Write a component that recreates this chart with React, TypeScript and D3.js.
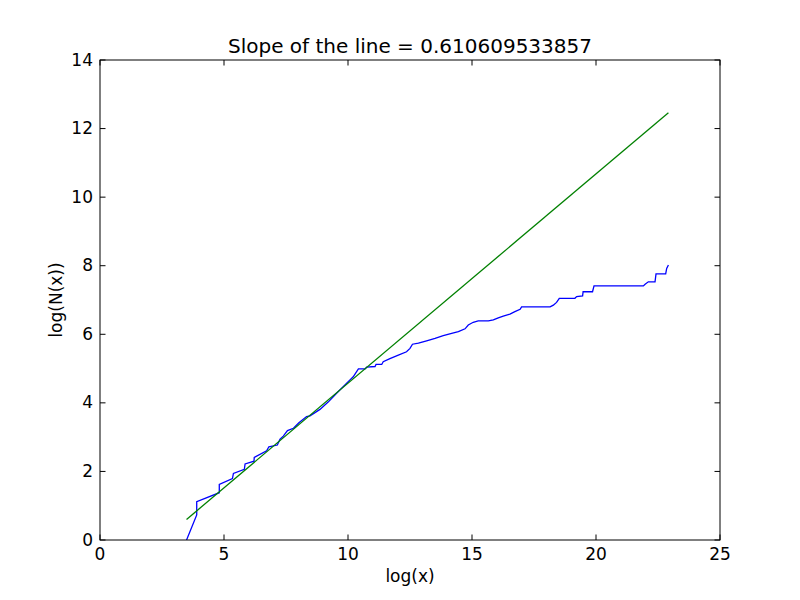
import React from "react";
import * as d3 from "d3";

const blueX = [3.49, 3.90, 3.90, 4.81, 4.81, 5.34, 5.38, 5.82, 5.85, 6.21, 6.22, 6.72, 6.81, 7.15, 7.26, 7.39, 7.56, 7.80, 8.02, 8.33, 8.47, 8.87, 9.21, 9.54, 10.08, 10.21, 10.42, 10.69, 10.75, 11.09, 11.13, 11.36, 11.42, 11.69, 12.03, 12.36, 12.50, 12.60, 12.84, 13.17, 13.51, 13.84, 14.18, 14.45, 14.72, 14.85, 15.05, 15.25, 15.66, 15.86, 16.06, 16.26, 16.53, 16.73, 16.94, 17.00, 18.15, 18.28, 18.41, 18.52, 19.15, 19.22, 19.46, 19.48, 19.86, 19.92, 21.91, 21.98, 22.11, 22.38, 22.42, 22.81, 22.85, 22.92];
const blueY = [0.00, 0.73, 1.12, 1.38, 1.62, 1.79, 1.94, 2.06, 2.22, 2.30, 2.41, 2.60, 2.72, 2.77, 2.94, 3.03, 3.19, 3.26, 3.42, 3.60, 3.62, 3.81, 4.03, 4.28, 4.67, 4.76, 4.99, 4.99, 5.04, 5.06, 5.12, 5.12, 5.20, 5.29, 5.39, 5.49, 5.59, 5.71, 5.74, 5.81, 5.88, 5.96, 6.03, 6.08, 6.16, 6.27, 6.35, 6.39, 6.39, 6.42, 6.48, 6.53, 6.59, 6.66, 6.73, 6.80, 6.80, 6.85, 6.93, 7.05, 7.05, 7.10, 7.12, 7.24, 7.24, 7.41, 7.41, 7.46, 7.53, 7.53, 7.76, 7.76, 7.92, 8.02];

const fitX = [3.49, 22.92];
const fitY = [0.60, 12.46];

const xTicks = [0, 5, 10, 15, 20, 25];
const yTicks = [0, 2, 4, 6, 8, 10, 12, 14];

const title = "Slope of the line = 0.610609533857";
const xLabel = "log(x)";
const yLabel = "log(N(x))";

export default function App() {
  const W = 800, H = 600;
  const L = 100, R = 720, T = 60, B = 540;
  const x = d3.scaleLinear().domain([0, 25]).range([L, R]);
  const y = d3.scaleLinear().domain([0, 14]).range([B, T]);
  const line = d3.line<[number, number]>().x(d => x(d[0])).y(d => y(d[1]));
  const blue = blueX.map((v, i) => [v, blueY[i]] as [number, number]);
  const fit = fitX.map((v, i) => [v, fitY[i]] as [number, number]);
  const font = "DejaVu Sans, sans-serif";
  const tl = 5.5;
  const fs = 17;
  return (
    <svg width={W} height={H} style={{ position: "absolute", left: 0, top: 0, background: "#fff" }} fontFamily={font}>
      <rect x={0} y={0} width={W} height={H} fill="#fff" />
      <defs>
        <clipPath id="clip"><rect x={L} y={T} width={R - L} height={B - T} /></clipPath>
      </defs>
      <g clipPath="url(#clip)">
        <path d={line(blue) || ""} fill="none" stroke="#0000ff" strokeWidth={1.3} />
        <path d={line(fit) || ""} fill="none" stroke="#008000" strokeWidth={1.3} />
      </g>
      <rect x={L} y={T} width={R - L} height={B - T} fill="none" stroke="#000" strokeWidth={1} />
      {xTicks.map(t => (
        <g key={"x" + t}>
          <line x1={x(t)} x2={x(t)} y1={B} y2={B - tl} stroke="#000" />
          <line x1={x(t)} x2={x(t)} y1={T} y2={T + tl} stroke="#000" />
          <text x={x(t)} y={B + 20} textAnchor="middle" fontSize={fs}>{t}</text>
        </g>
      ))}
      {yTicks.map(t => (
        <g key={"y" + t}>
          <line x1={L} x2={L + tl} y1={y(t)} y2={y(t)} stroke="#000" />
          <line x1={R} x2={R - tl} y1={y(t)} y2={y(t)} stroke="#000" />
          <text x={L - 7} y={y(t) + 5.5} textAnchor="end" fontSize={fs}>{t}</text>
        </g>
      ))}
      <text x={(L + R) / 2} y={582} textAnchor="middle" fontSize={fs}>{xLabel}</text>
      <text transform={`translate(62,${(T + B) / 2}) rotate(-90)`} textAnchor="middle" fontSize={fs}>{yLabel}</text>
      <text x={(L + R) / 2} y={53} textAnchor="middle" fontSize={20}>{title}</text>
    </svg>
  );
}
